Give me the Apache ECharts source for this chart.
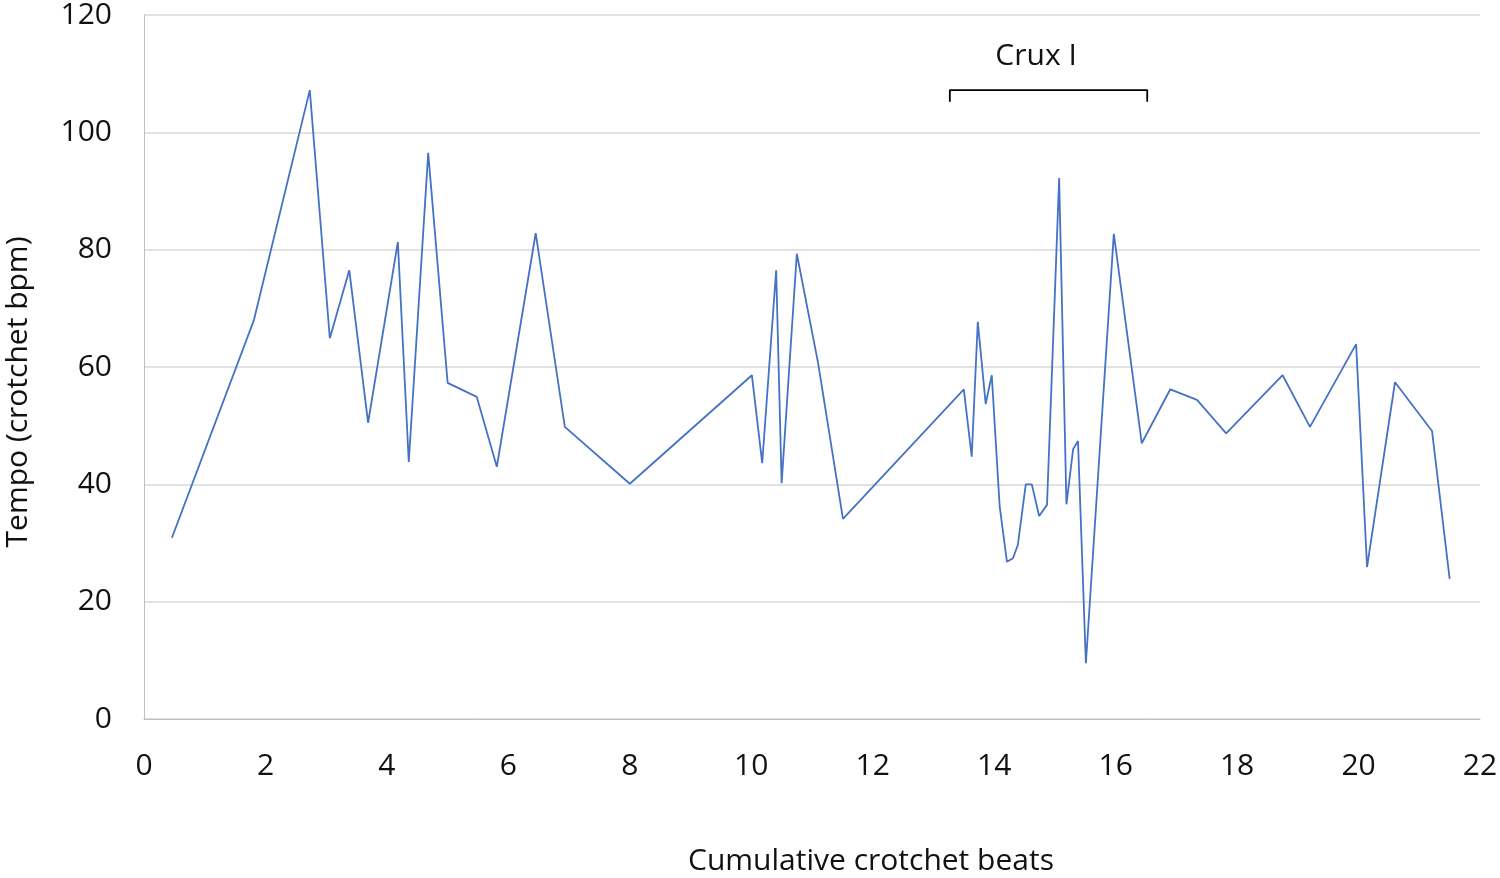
<!DOCTYPE html>
<html>
<head>
<meta charset="utf-8">
<script src="https://cdn.jsdelivr.net/npm/echarts@6/dist/echarts.min.js"></script>
<style>html,body{margin:0;padding:0;background:#fff}#c{width:1500px;height:878px}</style>
</head>
<body>
<div id="c"></div>
<script>
const beats = [0.46,1.81,2.73,3.06,3.38,3.69,4.18,4.36,4.68,5.0,5.48,5.81,6.45,6.93,8.0,10.01,10.18,10.41,10.5,10.75,11.1,11.51,13.5,13.63,13.73,13.86,13.96,14.09,14.21,14.31,14.39,14.52,14.62,14.74,14.87,15.07,15.19,15.3,15.38,15.51,15.97,16.43,16.9,17.34,17.82,18.75,19.2,19.96,20.14,20.6,21.21,21.5];
const tempo = [30.9,68.0,107.2,64.9,76.5,50.5,81.3,43.8,96.5,57.3,54.9,43.0,82.8,49.8,40.1,58.6,43.6,76.5,40.2,79.3,60.7,34.1,56.2,44.7,67.7,53.7,58.6,36.3,26.8,27.4,29.7,40.0,40.0,34.6,36.5,92.2,36.6,46.0,47.4,9.5,82.7,47.0,56.2,54.4,48.7,58.6,49.8,63.9,25.9,57.4,49.1,23.9];
const bracketX = [13.27, 13.27, 16.52, 16.52];
const bracketY = [105.2, 107.2, 107.2, 105.2];
const cruxLabel = "Crux I";
const cruxPos = [14.69, 113];
const xTitle = "Cumulative crotchet beats";
const yTitle = "Tempo (crotchet bpm)";

const font = "'Open Sans', 'Noto Sans', sans-serif";
const txt = '#111';
const chart = echarts.init(document.getElementById('c'));
chart.setOption({
  animation: false,
  grid: {left: 144, right: 20, top: 15, bottom: 159, containLabel: false, outerBoundsMode: 'none'},
  xAxis: {
    type: 'value', min: 0, max: 22, interval: 2,
    name: xTitle, nameLocation: 'middle', nameGap: 127,
    nameTextStyle: {fontSize: 30, color: txt, fontFamily: font, padding: [0, 0, 0, 118]},
    axisLine: {show: true, lineStyle: {color: '#bfbfbf'}},
    axisTick: {show: false},
    splitLine: {show: false},
    axisLabel: {fontSize: 30, color: txt, margin: 32, fontFamily: font}
  },
  yAxis: {
    type: 'value', min: 0, max: 120, interval: 20,
    name: yTitle, nameLocation: 'middle', nameGap: 111,
    nameTextStyle: {fontSize: 30, color: txt, fontFamily: font, padding: [0, 50, 0, 0]},
    axisLine: {show: true, lineStyle: {color: '#bfbfbf'}},
    axisTick: {show: false},
    splitLine: {show: true, lineStyle: {color: '#d9d9d9', width: 1.5}},
    axisLabel: {fontSize: 30, color: txt, margin: 32, fontFamily: font}
  },
  series: [
    {
      type: 'line', data: beats.map((b, i) => [b, tempo[i]]),
      symbol: 'none', lineStyle: {color: '#4472C4', width: 1.8}
    },
    {
      type: 'line', data: bracketX.map((b, i) => [b, bracketY[i]]),
      symbol: 'none', lineStyle: {color: '#000', width: 1.8}
    },
    {
      type: 'scatter', data: [cruxPos], symbolSize: 0,
      itemStyle: {opacity: 1},
      label: {show: true, position: 'inside', formatter: cruxLabel, fontSize: 30, color: txt, opacity: 1,
              fontFamily: font, textBorderWidth: 0, textBorderColor: 'transparent'}
    }
  ]
});
</script>
</body>
</html>
